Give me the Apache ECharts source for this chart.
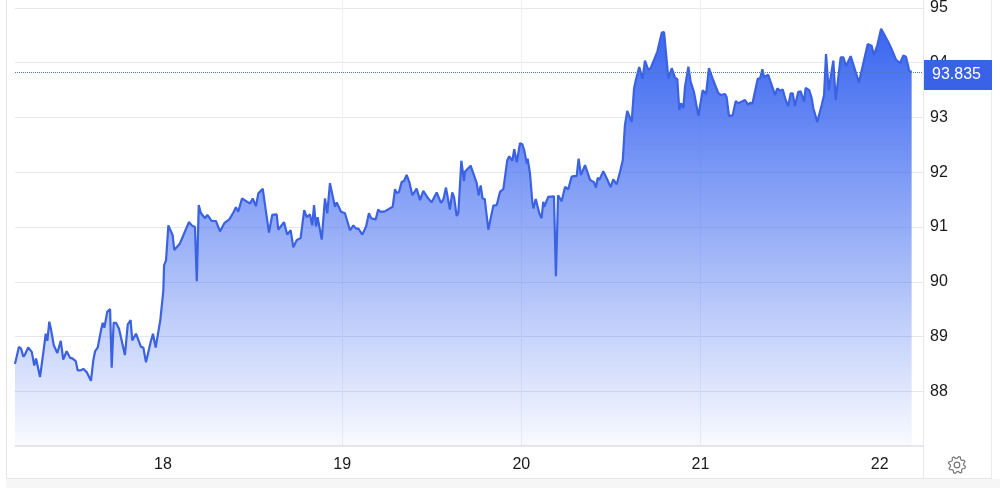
<!DOCTYPE html>
<html><head><meta charset="utf-8">
<style>html,body{margin:0;padding:0;background:#fff}#c{width:1000px;height:488px}</style>
<script src="https://cdn.jsdelivr.net/npm/echarts@6/dist/echarts.min.js"></script>
</head><body><div id="c"></div>
<script>
const days=[17.172,17.182,17.194,17.206,17.219,17.228,17.246,17.266,17.280,17.290,17.299,17.312,17.330,17.344,17.353,17.364,17.373,17.389,17.409,17.428,17.442,17.452,17.461,17.480,17.493,17.512,17.523,17.532,17.540,17.554,17.573,17.597,17.610,17.620,17.635,17.653,17.663,17.672,17.688,17.704,17.713,17.724,17.737,17.754,17.787,17.803,17.819,17.828,17.849,17.877,17.890,17.905,17.931,17.944,17.959,17.985,
18.002,18.006,18.017,18.030,18.054,18.063,18.095,18.114,18.145,18.161,18.179,18.189,18.200,18.211,18.222,18.235,18.248,18.272,18.296,18.319,18.328,18.343,18.371,18.393,18.408,18.421,18.442,18.472,18.487,18.502,18.520,18.533,18.558,18.576,18.593,18.611,18.636,18.645,18.677,18.695,18.714,18.729,18.748,18.770,18.790,18.804,18.822,18.835,18.845,18.856,18.865,18.888,18.906,18.919,18.934,18.944,18.962,18.972,18.996,
19.018,19.024,19.046,19.065,19.080,19.093,19.115,19.136,19.152,19.164,19.190,19.204,19.214,19.238,19.285,19.298,19.307,19.320,19.335,19.348,19.363,19.378,19.395,19.419,19.438,19.456,19.484,19.503,19.531,19.540,19.555,19.568,19.583,19.605,19.618,19.628,19.643,19.652,19.669,19.684,19.689,19.721,19.755,19.766,19.777,19.788,19.800,19.820,19.829,19.848,19.867,19.885,19.904,19.926,19.937,19.954,19.965,19.979,19.997,
20.010,20.021,20.035,20.040,20.053,20.066,20.072,20.085,20.094,20.105,20.118,20.127,20.133,20.155,20.187,20.198,20.210,20.230,20.249,20.267,20.286,20.299,20.314,20.325,20.338,20.361,20.389,20.411,20.422,20.432,20.441,20.463,20.482,20.504,20.519,20.528,20.538,20.556,20.572,20.584,20.597,20.622,20.635,20.646,20.655,20.664,20.674,20.683,20.696,20.715,20.728,20.765,20.790,20.803,20.827,20.846,20.864,20.877,20.888,20.898,20.911,20.920,20.939,20.952,20.970,20.995,
21.019,21.038,21.054,21.078,21.106,21.121,21.144,21.153,21.166,21.187,21.204,21.218,21.256,21.274,21.284,21.297,21.327,21.340,21.353,21.362,21.386,21.396,21.424,21.436,21.452,21.467,21.483,21.498,21.511,21.523,21.535,21.554,21.567,21.586,21.595,21.615,21.629,21.638,21.660,21.685,21.698,21.709,21.724,21.737,21.750,21.763,21.774,21.791,21.806,21.821,21.847,21.871,21.881,21.893,21.917,21.927,21.942,21.964,21.977,21.996,
22.017,22.029,22.039,22.057,22.076,22.100,22.123,22.141,22.156,22.175,22.188];
const prices=[88.50,88.53,88.81,88.78,88.63,88.67,88.80,88.72,88.47,88.60,88.58,88.26,88.69,89.05,88.92,89.27,89.14,88.84,88.70,88.92,88.58,88.55,88.73,88.61,88.60,88.55,88.38,88.41,88.38,88.41,88.35,88.19,88.56,88.73,88.80,89.11,89.25,89.16,89.45,89.50,88.43,89.25,89.25,89.14,88.66,89.22,89.30,88.93,89.05,88.81,88.80,88.53,88.90,89.05,88.80,89.30,
89.84,90.30,90.39,91.03,90.85,90.58,90.70,90.85,91.09,91.03,91.00,90.01,91.40,91.26,91.26,91.16,91.22,91.11,91.11,90.92,90.92,91.07,91.14,91.26,91.36,91.28,91.52,91.46,91.43,91.52,91.38,91.61,91.70,91.28,90.90,91.22,91.23,90.95,91.09,90.86,90.94,90.63,90.76,90.80,91.31,91.18,91.23,91.03,91.40,91.01,91.18,90.77,91.52,91.25,91.80,91.81,91.37,91.45,91.28,
91.25,91.23,90.94,91.03,90.97,90.97,90.86,91.01,91.25,91.16,91.14,91.32,91.28,91.28,91.37,91.69,91.62,91.64,91.82,91.84,91.95,91.82,91.58,91.70,91.49,91.66,91.52,91.45,91.63,91.63,91.44,91.50,91.72,91.32,91.63,91.55,91.20,91.25,92.21,91.84,92.01,92.12,91.80,91.58,91.76,91.52,91.51,90.95,90.97,91.39,91.40,91.64,91.69,92.22,92.29,92.21,92.42,92.18,92.53,
92.51,92.40,92.16,92.25,91.98,91.46,91.34,91.51,91.51,91.25,91.16,91.46,91.37,91.55,91.56,90.10,91.58,91.47,91.73,91.69,91.92,91.93,91.93,92.25,91.95,92.13,91.86,91.82,91.72,91.90,91.86,92.02,91.89,91.73,91.87,91.87,91.78,92.00,92.22,92.86,93.12,92.92,93.53,93.70,93.70,93.92,93.94,93.71,94.04,93.87,93.90,94.20,94.55,94.56,93.71,93.90,93.73,93.70,93.14,93.26,93.17,93.56,93.93,93.65,93.47,93.03,
93.50,93.43,93.90,93.68,93.45,93.41,93.43,93.37,93.03,93.04,93.30,93.26,93.32,93.23,93.27,93.25,93.71,93.71,93.88,93.74,93.78,93.68,93.41,93.53,93.49,93.51,93.32,93.21,93.44,93.44,93.21,93.47,93.48,93.29,93.54,93.50,93.35,93.17,92.92,93.23,93.41,94.16,93.50,93.78,94.04,93.32,93.35,94.10,94.10,93.94,94.12,93.87,93.85,93.64,93.98,93.99,94.34,94.31,94.14,94.32,
94.62,94.55,94.58,94.38,94.25,94.06,93.99,94.13,94.11,93.85,93.835];
const lastPrice=93.835;
const yTicks=[88,89,90,91,92,93,94,95];
const xTicks=[18,19,20,21,22];
// The day readings were taken against a slightly short day spacing; this corrects them.
const dayCorrection=0.99777;

const gearPoints=[];
for(let i=0;i<32;i++){
  const a=i/32*Math.PI*2, r=(i%4<2)?8.6:6.6;
  gearPoints.push([957+r*Math.cos(a+0.2),465+r*Math.sin(a+0.2)]);
}
const chart=echarts.init(document.getElementById('c'),null,{renderer:'canvas'});
chart.setOption({
  animation:false,
  textStyle:{fontFamily:'"Liberation Sans",Arial,sans-serif'},
  grid:{left:15,right:77,top:0,bottom:42,containLabel:false},
  xAxis:{type:'value',min:17.174,max:22.242,
    axisLine:{show:true,lineStyle:{color:'#dfe1e6',width:1.5}},
    axisTick:{show:false,customValues:xTicks},
    axisLabel:{color:'#1a1a1a',fontSize:16,margin:11,customValues:xTicks,
      formatter:v=>String(Math.round(v))},
    splitLine:{show:true,showMinLine:false,showMaxLine:false,lineStyle:{color:'#edf1f6',width:1}}},
  yAxis:{type:'value',position:'right',min:87,max:95.146,interval:1,
    axisLine:{show:false},axisTick:{show:false},
    axisLabel:{color:'#1a1a1a',fontSize:16,margin:7,showMinLabel:false,showMaxLabel:false,padding:[2,0,0,0],
      formatter:v=>yTicks.includes(v)?String(v):''},
    splitLine:{show:true,showMinLine:false,showMaxLine:false,lineStyle:{color:'#e6e8ee',width:1}}},
  series:[{type:'line',data:days.map((d,i)=>[18+(d-18)*dayCorrection,prices[i]]),showSymbol:false,smooth:false,clip:false,
    lineStyle:{color:'#3a62e2',width:2.2},
    areaStyle:{opacity:1,color:new echarts.graphic.LinearGradient(0,0,0,1,[
      {offset:0,color:'#3a66f0'},{offset:1,color:'rgba(58,102,240,0.03)'}])},
    markLine:{silent:true,symbol:'none',animation:false,
      lineStyle:{color:'#4f76b5',type:'dotted',width:1},
      label:{show:true,position:'end',distance:1,offset:[0,3],formatter:()=>lastPrice.toFixed(3),
        color:'#fff',fontSize:16,backgroundColor:'#3a62e6',
        padding:[8,8,6,8],width:52,align:'left',lineHeight:16},
      data:[{yAxis:lastPrice}]}}],
  graphic:[
    {type:'rect',silent:true,shape:{x:6,y:479,width:994,height:9},style:{fill:'#f6f6f6'}},
    {type:'line',silent:true,shape:{x1:6.5,y1:0,x2:6.5,y2:479},style:{stroke:'#e4e4e4',lineWidth:1}},
    {type:'line',silent:true,shape:{x1:991.5,y1:0,x2:991.5,y2:479},style:{stroke:'#ececec',lineWidth:1}},
    {type:'line',silent:true,shape:{x1:923.5,y1:0,x2:923.5,y2:479},style:{stroke:'#e6e8ee',lineWidth:1}},
    {type:'line',silent:true,shape:{x1:6,y1:478.5,x2:992,y2:478.5},style:{stroke:'#e6e6e6',lineWidth:1}},
    {type:'polygon',silent:true,shape:{points:gearPoints},style:{fill:'none',stroke:'#777',lineWidth:1.2}},
    {type:'circle',silent:true,shape:{cx:957,cy:465,r:2.8},style:{fill:'none',stroke:'#777',lineWidth:1.2}}
  ]
});
</script></body></html>
